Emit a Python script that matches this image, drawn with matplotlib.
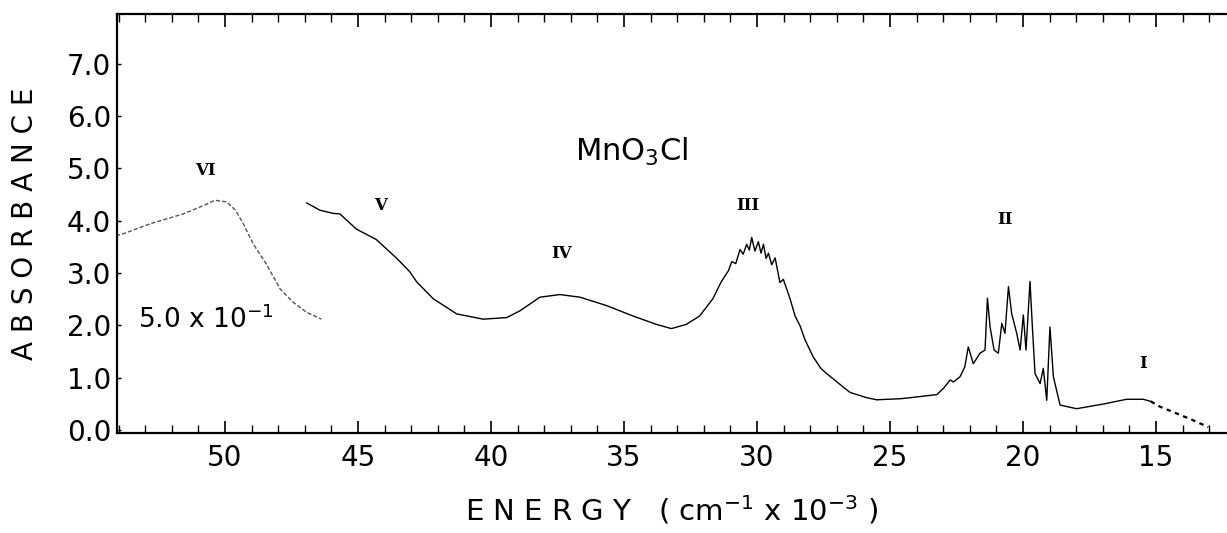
import matplotlib.pyplot as plt
from matplotlib.ticker import MultipleLocator, FormatStrFormatter

# band VI, recorded at 5.0 x 10^-1 scale
e_vi = [54.10, 53.88, 52.82, 51.57, 50.94, 50.38, 49.94, 49.60, 49.31, 48.93,
        48.43, 47.93, 47.43, 46.93, 46.37]
a_vi = [3.72, 3.74, 3.94, 4.13, 4.26, 4.39, 4.36, 4.20, 3.94, 3.55,
        3.16, 2.70, 2.44, 2.25, 2.12]

# main spectrum
energy = [46.93, 46.43, 45.93, 45.68, 45.06, 44.31, 43.56, 43.06, 42.79, 42.17,
          41.29, 40.29, 39.41, 38.91, 38.16, 37.41, 36.66, 35.66, 34.66, 33.78,
          33.22, 32.66, 32.16, 31.66, 31.35, 31.07, 30.95, 30.80, 30.64, 30.52,
          30.39, 30.29, 30.20, 30.08, 29.95, 29.85, 29.76, 29.66, 29.57, 29.45,
          29.32, 29.14, 29.01, 28.76, 28.57, 28.38, 28.20, 27.89, 27.60, 27.38,
          26.75, 26.50, 25.87, 25.50, 25.12, 24.62, 24.25, 23.24, 22.99, 22.74,
          22.62, 22.37, 22.19, 22.06, 21.87, 21.62, 21.43, 21.34, 21.24, 21.09,
          20.93, 20.80, 20.68, 20.55, 20.43, 20.24, 20.11, 19.99, 19.89, 19.74,
          19.65, 19.55, 19.36, 19.24, 19.11, 18.99, 18.86, 18.61, 17.99, 16.98,
          16.11, 15.48, 15.20]
absorb = [4.34, 4.20, 4.14, 4.13, 3.84, 3.64, 3.29, 3.03, 2.83, 2.51,
          2.22, 2.12, 2.15, 2.28, 2.54, 2.59, 2.54, 2.38, 2.18, 2.02,
          1.94, 2.02, 2.18, 2.51, 2.83, 3.05, 3.22, 3.18, 3.45, 3.36,
          3.55, 3.44, 3.68, 3.42, 3.60, 3.38, 3.55, 3.28, 3.38, 3.16,
          3.29, 2.82, 2.88, 2.51, 2.18, 1.99, 1.73, 1.40, 1.18, 1.08,
          0.82, 0.72, 0.62, 0.58, 0.59, 0.60, 0.62, 0.68, 0.80, 0.96,
          0.92, 1.02, 1.21, 1.59, 1.27, 1.47, 1.53, 2.52, 1.97, 1.53,
          1.47, 2.04, 1.85, 2.74, 2.23, 1.85, 1.53, 2.20, 1.53, 2.84,
          1.97, 1.08, 0.89, 1.18, 0.57, 1.97, 1.02, 0.48, 0.41, 0.50,
          0.59, 0.59, 0.55]

# dotted tail at the low-energy end
e_tail = [15.20, 14.86, 14.23, 13.61, 13.04]
a_tail = [0.55, 0.45, 0.32, 0.19, 0.06]

bands = ['VI', 'V', 'IV', 'III', 'II', 'I']
band_e = [50.75, 44.17, 37.34, 30.33, 20.68, 15.48]
band_a = [4.95, 4.30, 3.38, 4.29, 4.03, 1.27]

fig = plt.figure(figsize=(12.27, 5.33), dpi=100)
ax = fig.add_axes([0.0951, 0.187, 0.905, 0.787])

ax.plot(e_vi, a_vi, color='#555555', lw=1.0, ls=(0, (3, 1.5)))
ax.plot(energy, absorb, color='black', lw=1.0)
ax.plot(e_tail, a_tail, color='black', lw=1.6, ls=(0, (2, 2)))

for b, x, y in zip(bands, band_e, band_a):
    ax.text(x, y, b, ha='center', va='center', fontsize=12,
            family='DejaVu Serif', fontweight='bold')

ax.text(34.7, 5.32, 'MnO$_3$Cl', ha='center', va='center', fontsize=22)
ax.text(53.27, 2.10, '5.0 x 10$^{-1}$', ha='left', va='center', fontsize=19)

ax.set_xlim(54.07, 12.33)
ax.set_ylim(-0.06, 7.95)
ax.xaxis.set_major_locator(MultipleLocator(5))
ax.xaxis.set_minor_locator(MultipleLocator(1))
ax.yaxis.set_major_locator(MultipleLocator(1))
ax.yaxis.set_major_formatter(FormatStrFormatter('%.1f'))
ax.tick_params(axis='x', which='major', direction='in', top=True, length=9,
               width=1.2, labelsize=20, pad=8)
ax.tick_params(axis='x', which='minor', direction='in', top=True, length=6,
               width=1.0)
ax.tick_params(axis='y', direction='in', length=3, width=1.0, labelsize=20,
               pad=4)
ax.spines['right'].set_visible(False)
for s in ['left', 'bottom', 'top']:
    ax.spines[s].set_linewidth(1.6)

ax.set_xlabel('E N E R G Y   ( cm$^{-1}$ x 10$^{-3}$ )', fontsize=21, labelpad=15)
ax.set_ylabel('A B S O R B A N C E', fontsize=20, labelpad=20)

plt.savefig('out.png', dpi=100)
